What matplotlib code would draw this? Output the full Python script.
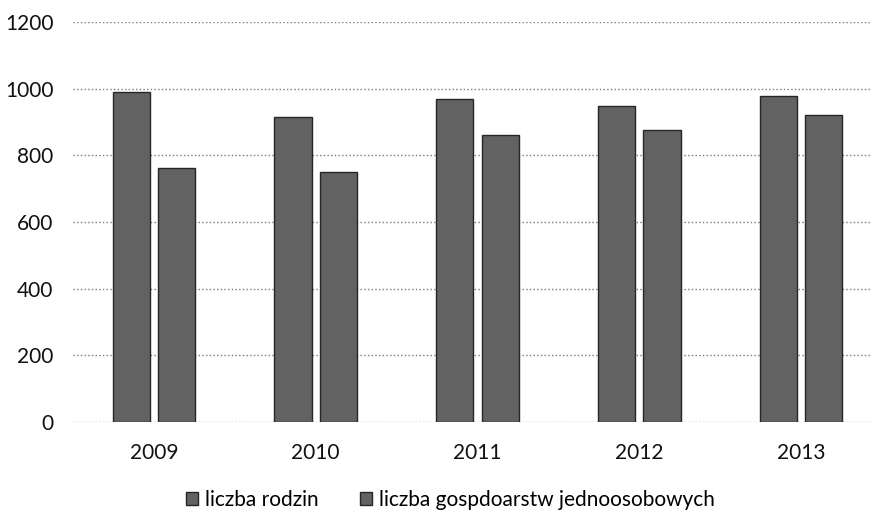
import matplotlib.pyplot as plt
import numpy as np

# dane
lata = ['2009', '2010', '2011', '2012', '2013']
liczba_rodzin = [989, 914, 968, 948, 978]
liczba_gosp_jednoos = [761, 751, 861, 876, 921]
y_ticks = [0, 200, 400, 600, 800, 1000, 1200]

plt.rcParams['font.family'] = ['Lato', 'DejaVu Sans']

fig = plt.figure(figsize=(8.72, 5.11), dpi=100)
ax = fig.add_axes([73 / 872, 89 / 511, 799 / 872, 400 / 511])

x = np.arange(len(lata))
w = 0.23
off = 0.14
ax.bar(x - off, liczba_rodzin, w, color='#626262', edgecolor='#262626',
       linewidth=1, label='liczba rodzin', zorder=3)
ax.bar(x + off, liczba_gosp_jednoos, w, color='#626262', edgecolor='#262626',
       linewidth=1, label='liczba gospdoarstw jednoosobowych', zorder=3)

ax.set_ylim(0, 1200)
ax.set_xlim(-0.5, 4.5 - 10 / 161.75)
ax.set_yticks(y_ticks)
ax.set_xticks(x)
ax.set_xticklabels(lata)
ax.tick_params(axis='both', length=0, labelsize=15, colors='#111111')
ax.tick_params(axis='y', pad=14)
ax.tick_params(axis='x', pad=15)
ax.yaxis.grid(True, linestyle=':', color='#7a7a7a', linewidth=1.0, zorder=0)
for s in ax.spines.values():
    s.set_visible(False)

leg = ax.legend(loc='center', bbox_to_anchor=(0.472, -0.195), ncol=2,
                frameon=False, fontsize=15, handlelength=0.6, handleheight=0.6,
                handletextpad=0.3, columnspacing=2.0)

plt.savefig('out.png', dpi=100)
plt.close()
